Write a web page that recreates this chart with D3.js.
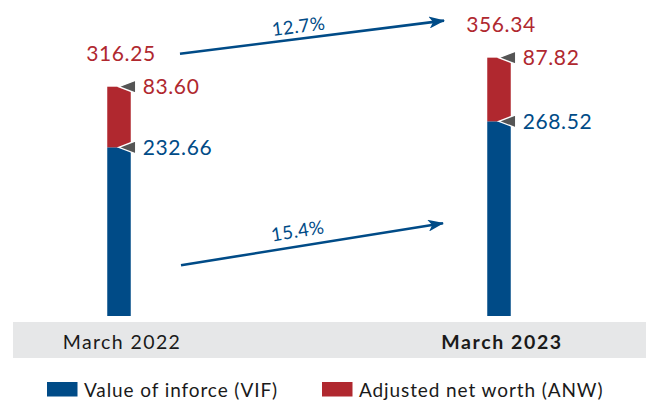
<!DOCTYPE html>
<html>
<head>
<meta charset="utf-8">
<script src="https://cdn.jsdelivr.net/npm/d3@7"></script>
<style>
  html, body { margin: 0; padding: 0; background: #fff; }
  svg { display: block; }
  text { font-family: Lato, "Open Sans", sans-serif; }
</style>
</head>
<body>
<svg id="chart" width="646" height="403"></svg>
<script>
// Embedded value components (INR bn)
const periods = ["March 2022", "March 2023"];
const vif = [232.66, 268.52];   // Value of inforce
const anw = [83.60, 87.82];     // Adjusted net worth
const totals = [316.25, 356.34];
const seriesNames = ["Value of inforce (VIF)", "Adjusted net worth (ANW)"];
const yTicks = [0, 400];

const BLUE = "#004b87";
const RED = "#b0282f";
const GREY = "#555555";

const svg = d3.select("#chart");
const W = 646, H = 403;

const x = d3.scalePoint().domain(periods).range([119, 499]);
const y = d3.scaleLinear().domain(yTicks).range([316, 26]);
const barW = 23.5;
const cx = p => x(p);

// Category band
svg.append("rect").attr("x", 13).attr("y", 322).attr("width", W - 13).attr("height", 36)
  .attr("fill", "#e6e7e8");

const rows = periods.map((p, i) => ({ p, i, vif: vif[i], anw: anw[i], total: totals[i] }));

// Stacked bars
const g = svg.append("g");
rows.forEach(d => {
  const bx = cx(d.p) - barW / 2;
  g.append("rect").attr("x", bx).attr("width", barW)
    .attr("y", y(d.vif)).attr("height", y(0) - y(d.vif)).attr("fill", BLUE);
  g.append("rect").attr("x", bx).attr("width", barW)
    .attr("y", y(d.vif + d.anw)).attr("height", y(d.vif) - y(d.vif + d.anw)).attr("fill", RED);
});

// Pointer triangles and segment values
const pointer = (px, py) => `M${px},${py} L${px + 17},${py - 6.5} L${px + 17},${py + 6.5} Z`;
rows.forEach(d => {
  const right = cx(d.p) + barW / 2;
  const segs = [
    { top: d.vif, label: d3.format(".2f")(d.vif), color: BLUE },
    { top: d.vif + d.anw, label: d3.format(".2f")(d.anw), color: RED }
  ];
  segs.forEach(s => {
    svg.append("path").attr("d", pointer(right - 12, y(s.top)))
      .attr("fill", GREY).attr("stroke", "#fff").attr("stroke-width", 1.4)
      .attr("stroke-linejoin", "miter");
    svg.append("text").attr("x", right + 12).attr("y", y(s.top) + 7.5)
      .attr("fill", s.color).attr("font-size", 21).attr("letter-spacing", 0.6).text(s.label);
  });
  svg.append("text").attr("x", cx(d.p) + 2).attr("y", y(d.total) - 26)
    .attr("text-anchor", "middle").attr("fill", RED).attr("font-size", 21)
    .attr("letter-spacing", 0.6)
    .text(d3.format(".2f")(d.total));
});

// Growth arrows
svg.append("defs").append("marker")
  .attr("id", "head").attr("viewBox", "0 0 16 12").attr("refX", 15).attr("refY", 6)
  .attr("markerWidth", 16).attr("markerHeight", 12).attr("markerUnits", "userSpaceOnUse")
  .attr("orient", "auto")
  .append("path").attr("d", "M0,0 L16,6 L0,12 L4,6 Z").attr("fill", BLUE);

const pct = d3.format(".1%");
const arrows = [
  { x0: cx(periods[0]) + 61, y0: y(totals[0]) - 33, x1: cx(periods[1]) - 55, y1: y(totals[1]) - 37,
    label: pct(totals[1] / totals[0] - 1), off: 6 },
  { x0: cx(periods[0]) + 62, y0: y(70), x1: cx(periods[1]) - 56, y1: y(128),
    label: pct(vif[1] / vif[0] - 1), off: 9 }
];
arrows.forEach(a => {
  svg.append("line").attr("x1", a.x0).attr("y1", a.y0).attr("x2", a.x1).attr("y2", a.y1)
    .attr("stroke", BLUE).attr("stroke-width", 2.6).attr("marker-end", "url(#head)");
  const ang = Math.atan2(a.y1 - a.y0, a.x1 - a.x0) * 180 / Math.PI;
  const t = (300 - a.x0) / (a.x1 - a.x0);
  const lx = 300, ly = a.y0 + t * (a.y1 - a.y0);
  svg.append("text")
    .attr("transform", `translate(${lx},${ly}) rotate(${ang}) translate(0,${-a.off})`)
    .attr("text-anchor", "middle").attr("fill", BLUE).attr("font-size", 18.5)
    .attr("letter-spacing", 0.4)
    .text(a.label);
});

// Category labels
periods.forEach((p, i) => {
  svg.append("text").attr("x", cx(p) + 3).attr("y", 349).attr("text-anchor", "middle")
    .attr("fill", "#1a1a1a").attr("font-size", 19.5).attr("letter-spacing", i === 1 ? 1.6 : 1.4)
    .attr("font-weight", i === 1 ? 700 : 400).text(p);
});

// Legend
const legend = [
  { name: seriesNames[0], color: BLUE, x: 47 },
  { name: seriesNames[1], color: RED, x: 322 }
];
legend.forEach(l => {
  svg.append("rect").attr("x", l.x).attr("y", 382).attr("width", 30.5).attr("height", 14.5)
    .attr("fill", l.color);
  svg.append("text").attr("x", l.x + 37).attr("y", 397).attr("fill", "#1a1a1a")
    .attr("font-size", 19).attr("letter-spacing", 0.9).text(l.name);
});
</script>
</body>
</html>
